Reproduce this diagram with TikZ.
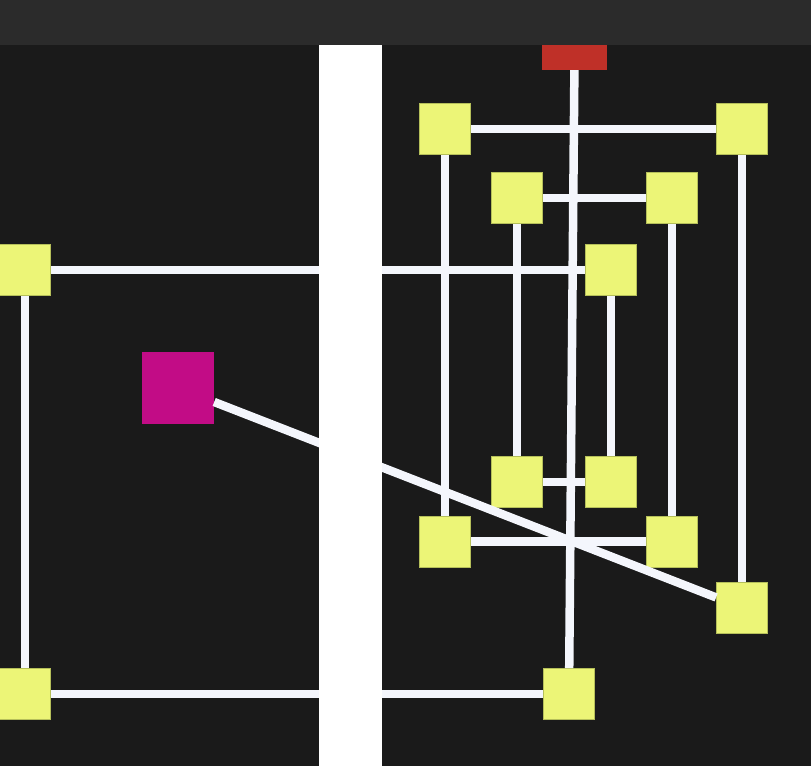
\documentclass[tikz,border=0pt]{standalone}
\usepackage{tikz}
\definecolor{backcol}{HTML}{1A1A1A}
\definecolor{barcol}{HTML}{2B2B2B}
\definecolor{boxfill}{HTML}{ECF577}
\definecolor{boxline}{HTML}{B5BF5A}
\definecolor{hubcol}{HTML}{C20C86}
\definecolor{rootcol}{HTML}{BF3028}
\definecolor{wirecol}{HTML}{F4F6FC}
\tikzset{
	box/.style={draw=boxline, line width=0.8pt, fill=boxfill, minimum size=51pt, inner sep=0pt},
	wire/.style={draw=wirecol, line width=8.5pt},
}

\begin{document}
\begin{tikzpicture}[x=1pt, y=-1pt]
	\useasboundingbox (0,0) rectangle (811,766);
	\path [fill=backcol] (0,0) rectangle (811,766);
	% nodes
	\node [fill=rootcol, minimum width=65pt, minimum height=25pt, inner sep=0pt] (root) at (574.5,57.5) {};
	\node [fill=hubcol, minimum size=72pt, inner sep=0pt] (hub) at (178,388) {};
	\node [box] (west) at (25,270) {};
	\node [box] (westb) at (25,694) {};
	\node [box] (outl) at (445,129) {};
	\node [box] (outr) at (742,129) {};
	\node [box] (inl) at (517,198) {};
	\node [box] (inr) at (672,198) {};
	\node [box] (mid) at (611,270) {};
	\node [box] (inbl) at (517,482) {};
	\node [box] (inbr) at (611,482) {};
	\node [box] (outbl) at (445,541.5) {};
	\node [box] (outbr) at (672,541.5) {};
	\node [box] (far) at (742,607.5) {};
	\node [box] (bot) at (569,694) {};
	% connectors
	\draw [wire] (west) -- (mid);
	\draw [wire] (west) -- (westb);
	\draw [wire] (westb) -- (bot);
	\draw [wire] (hub) -- (far);
	\draw [wire] (outl) -- (outr);
	\draw [wire] (outl) -- (outbl);
	\draw [wire] (outr) -- (far);
	\draw [wire] (inl) -- (inr);
	\draw [wire] (inl) -- (inbl);
	\draw [wire] (inr) -- (outbr);
	\draw [wire] (mid) -- (inbr);
	\draw [wire] (inbl) -- (inbr);
	\draw [wire] (outbl) -- (outbr);
	\draw [wire] (root) -- (bot);
	% bars
	\path [fill=white] (319,45) rectangle (381.5,766);
	\path [fill=barcol] (0,0) rectangle (811,45);
\end{tikzpicture}
\end{document}
